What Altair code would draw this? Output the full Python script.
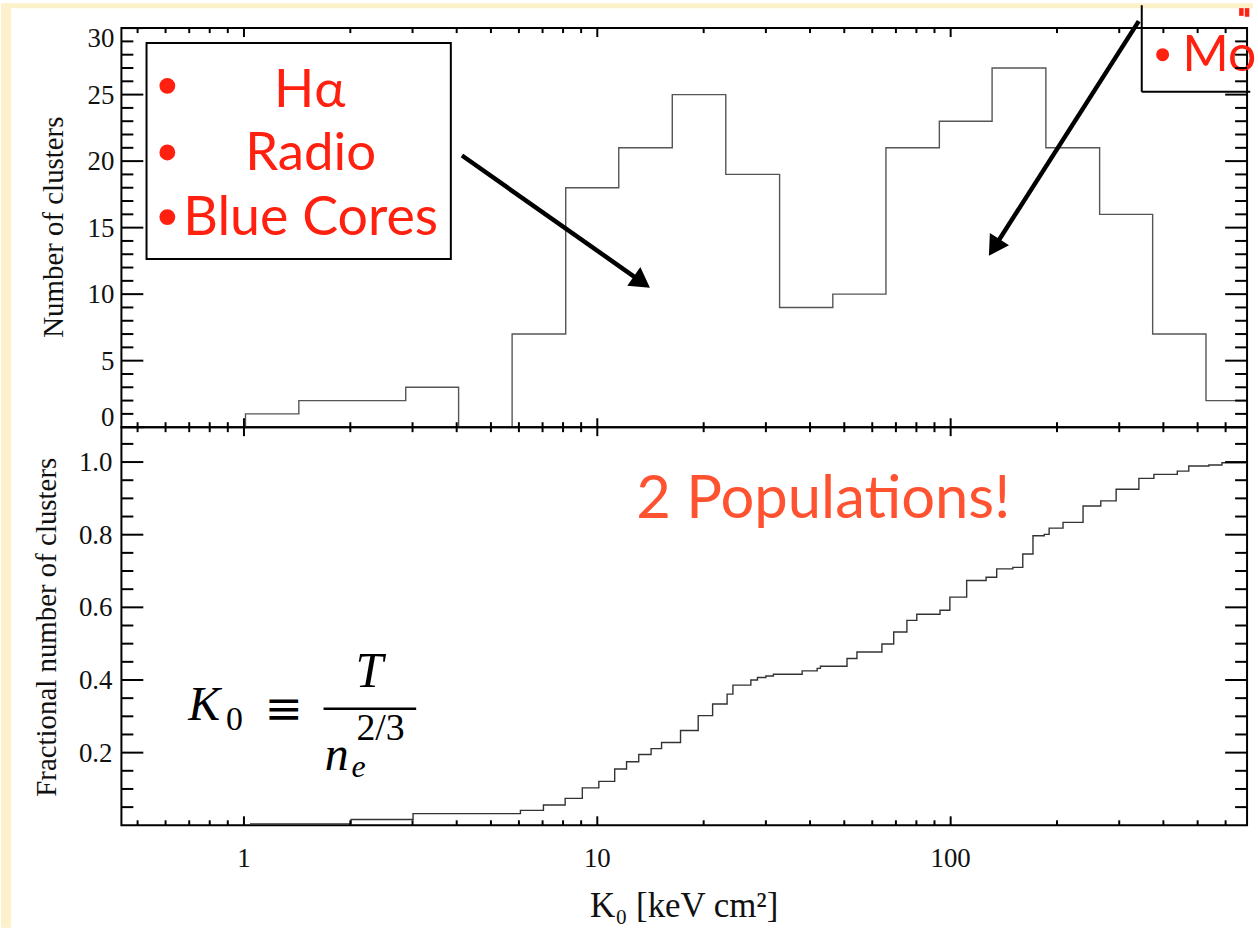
import altair as alt
import pandas as pd

# ---- histogram of central entropy K0 [keV cm^2] ----
bin_edges = [1.01, 1.43, 2.03, 2.87, 4.05, 5.74, 8.14, 11.5, 16.3, 23.1,
             32.8, 46.4, 65.6, 92.9, 131, 186, 264, 373, 528, 746]
cluster_counts = [1, 2, 2, 3, 0, 7, 18, 21, 25, 19, 9, 10, 21, 23, 27, 21, 16, 7, 2]

# ---- cumulative fraction of clusters (step corners) ----
cum_k = [1.04, 2.01, 3.01, 6.06, 7.04, 8.11, 9.07, 10.1, 11.2, 12.1, 13.1, 14.2,
         15.2, 17.2, 19.3, 21.2, 23.3, 24.2, 27.2, 28.4, 30.0, 31.5, 38.0, 41.9,
         42.8, 50.9, 54.3, 63.9, 69.0, 75.2, 80.2, 93.3, 99.5, 111, 126, 135,
         150, 160, 171, 184, 190, 208, 237, 266, 294, 341, 376, 438, 472, 538,
         586, 690]
cum_frac = [0.004, 0.016, 0.032, 0.041, 0.056, 0.074, 0.103, 0.121, 0.155, 0.175,
            0.195, 0.211, 0.228, 0.261, 0.302, 0.334, 0.361, 0.386, 0.400, 0.407,
            0.411, 0.416, 0.425, 0.432, 0.438, 0.459, 0.477, 0.499, 0.532, 0.564,
            0.581, 0.592, 0.628, 0.674, 0.683, 0.706, 0.710, 0.747, 0.797, 0.801,
            0.818, 0.834, 0.879, 0.893, 0.925, 0.955, 0.966, 0.975, 0.989, 0.992,
            0.998, 1.0]

# ---- axes ----
k_labels = [1, 10, 100]
k_label_text = ["1", "10", "100"]
k_minor = [0.5, 0.6, 0.7, 0.8, 0.9, 2, 3, 4, 5, 6, 7, 8, 9,
           20, 30, 40, 50, 60, 70, 80, 90, 200, 300, 400, 500, 600]
count_labels = [0, 5, 10, 15, 20, 25, 30]
count_minor = [v for v in range(1, 30) if v % 5]
frac_labels = [0.2, 0.4, 0.6, 0.8, 1.0]
frac_label_text = ["0.2", "0.4", "0.6", "0.8", "1.0"]
frac_minor = [0.05, 0.1, 0.15, 0.25, 0.3, 0.35, 0.45, 0.5, 0.55, 0.65, 0.7,
              0.75, 0.85, 0.9, 0.95, 1.05]

W, H_TOP, H_BOT = 1131, 401, 400
SERIF = "Liberation Serif"
SANS = "Lato"
RED = "#FF2010"
ORANGE = "#FF5230"
CREAM = "#FDF1CB"
INK = "#111111"
LABEL_SIZE = 27
TITLE_SIZE = 29

xs = alt.Scale(type="log", domain=[0.45, 690], nice=False)
ys_top = alt.Scale(domain=[0, 30], nice=False, zero=False)
ys_bot = alt.Scale(domain=[0, 1.096], nice=False, zero=False)


def one():
    return pd.DataFrame({"d": [0]})


def xq(field):
    return alt.X(field, type="quantitative", scale=xs, axis=None)


def yq(field, scale):
    return alt.Y(field, type="quantitative", scale=scale, axis=None)


def y_ticks(values, scale, length):
    df = pd.DataFrame({"v": values})
    base = alt.Chart(df).mark_rule(color="black", strokeWidth=2)
    left = base.encode(y=yq("v", scale), x=alt.value(0), x2=alt.value(length))
    right = base.encode(y=yq("v", scale), x=alt.value(W - length), x2=alt.value(W))
    return [left, right]


def x_ticks(values, height, length):
    df = pd.DataFrame({"v": values})
    base = alt.Chart(df).mark_rule(color="black", strokeWidth=2)
    low = base.encode(x=xq("v"), y=alt.value(height), y2=alt.value(height - length))
    high = base.encode(x=xq("v"), y=alt.value(0), y2=alt.value(length))
    return [low, high]


def y_labels(values, texts, scale, xpos, dy):
    df = pd.DataFrame({"v": values, "t": texts})
    return alt.Chart(df).mark_text(
        align="right", baseline="alphabetic", dy=dy, font=SERIF,
        fontSize=LABEL_SIZE, color=INK
    ).encode(y=yq("v", scale), x=alt.value(xpos), text="t:N")


def title(text, x, y, size, angle=0):
    df = pd.DataFrame({"t": [text]})
    return alt.Chart(df).mark_text(
        align="center", baseline="alphabetic", angle=angle, font=SERIF,
        fontSize=size, color=INK
    ).encode(x=alt.value(x), y=alt.value(y), text="t:N")


def label(text, k, v, scale, size, color, font, align="left", style="normal",
          baseline="alphabetic"):
    df = pd.DataFrame({"k": [k], "v": [v], "t": [text]})
    return alt.Chart(df).mark_text(
        align=align, baseline=baseline, font=font, fontSize=size,
        color=color, fontStyle=style
    ).encode(x=xq("k"), y=yq("v", scale), text="t:N")


def arrow(k0, v0, k1, v1, angle, scale):
    df = pd.DataFrame({"k": [k0], "v": [v0], "k2": [k1], "v2": [v1]})
    shaft = alt.Chart(df).mark_rule(color="black", strokeWidth=4.5).encode(
        x=xq("k"), y=yq("v", scale), x2="k2:Q", y2="v2:Q")
    head_df = pd.DataFrame({"k": [k1], "v": [v1]})
    head = alt.Chart(head_df).mark_point(
        shape="triangle-up", filled=True, size=520, angle=angle,
        color="black", opacity=1, strokeWidth=0
    ).encode(x=xq("k"), y=yq("v", scale))
    return [shaft, head]


# ---------------- upper panel: histogram ----------------
hist_df = pd.DataFrame({
    "k": [bin_edges[0]] + bin_edges,
    "n": [0] + cluster_counts + [cluster_counts[-1]],
})
hist_df["i"] = range(len(hist_df))

hist = alt.Chart(hist_df).mark_line(
    interpolate="step-after", color="#555555", strokeWidth=1.4, clip=True
).encode(x=xq("k"), y=yq("n", ys_top), order="i:Q")

# page edge
edge_left = alt.Chart(one()).mark_rect(color=CREAM).encode(
    x=alt.value(-121), x2=alt.value(-111), y=alt.value(-25), y2=alt.value(904))
edge_top = alt.Chart(one()).mark_rect(color=CREAM).encode(
    x=alt.value(-121), x2=alt.value(W + 6), y=alt.value(-25), y2=alt.value(-20))

# tracer list box
box_df = pd.DataFrame({"k": [0.530], "v": [28.88], "k2": [3.85], "v2": [12.64]})
box = alt.Chart(box_df).mark_rect(fill="white", stroke="black", strokeWidth=2).encode(
    x=xq("k"), y=yq("v", ys_top), x2="k2:Q", y2="v2:Q")

bullet_df = pd.DataFrame({"k": [0.607, 0.607, 0.607], "v": [25.66, 20.65, 15.79]})
bullets = alt.Chart(bullet_df).mark_circle(color=RED, size=254, opacity=1).encode(
    x=xq("k"), y=yq("v", ys_top))

tracer_text = [
    label("Hα", 1.534, 24.09, ys_top, 53, RED, SANS, align="center"),
    label("Radio", 1.544, 19.30, ys_top, 53, RED, SANS, align="center"),
    label("Blue Cores", 0.673, 14.44, ys_top, 54, RED, SANS),
]

# second box, running off the page
side_v = pd.DataFrame({"k": [347.4], "v": [31.72], "k2": [347.4], "v2": [25.21]})
side_h = pd.DataFrame({"k": [347.4], "v": [25.21], "k2": [704.6], "v2": [25.21]})
side_box = [
    alt.Chart(d).mark_rule(color="black", strokeWidth=2).encode(
        x=xq("k"), y=yq("v", ys_top), x2="k2:Q", y2="v2:Q")
    for d in (side_v, side_h)
]
side_bullet = alt.Chart(pd.DataFrame({"k": [398.0], "v": [28.0]})).mark_circle(
    color=RED, size=170, opacity=1).encode(x=xq("k"), y=yq("v", ys_top))
side_text = label("Mo", 453.3, 26.76, ys_top, 50, RED, SANS)
glyph_df = pd.DataFrame({"k": [665.0, 690.0], "v": [31.50, 31.50], "v2": [30.92, 30.85]})
side_glyph = alt.Chart(glyph_df).mark_rule(color=RED, strokeWidth=4.5).encode(
    x=xq("k"), y=yq("v", ys_top), y2="v2:Q")

arrows_top = (arrow(4.14, 20.42, 13.37, 10.91, 125.1, ys_top)
              + arrow(340.7, 30.52, 132.8, 13.51, 212.5, ys_top))

top = alt.layer(
    edge_left, edge_top, box, hist, *arrows_top, *side_box, side_glyph,
    bullets, *tracer_text, side_bullet, side_text,
    *y_ticks(count_labels, ys_top, 22), *y_ticks(count_minor, ys_top, 12),
    *x_ticks(k_labels, H_TOP, 9), *x_ticks(k_minor, H_TOP, 5),
    y_labels(count_labels[1:-1], [str(v) for v in count_labels[1:-1]], ys_top, -7, 9),
    y_labels([0], ["0"], ys_top, -7, -1),
    y_labels([30], ["30"], ys_top, -7, 19),
    title("Number of clusters", -59, 200, TITLE_SIZE, angle=270),
).properties(width=W, height=H_TOP)

# ---------------- lower panel: cumulative fraction ----------------
cum_df = pd.DataFrame({"k": cum_k, "f": cum_frac})
cum_df["i"] = range(len(cum_df))

cum = alt.Chart(cum_df).mark_line(
    interpolate="step-after", color="#333333", strokeWidth=1.4, clip=True
).encode(x=xq("k"), y=yq("f", ys_bot), order="i:Q")

populations = label("2 Populations!", 43.6, 0.847, ys_bot, 60, ORANGE, SANS,
                    align="center")

# K0 = T / n_e^(2/3)
bar_df = pd.DataFrame({"k": [1.680], "v": [0.3205], "k2": [3.072]})
frac_bar = alt.Chart(bar_df).mark_rule(color="black", strokeWidth=2.5).encode(
    x=xq("k"), y=yq("v", ys_bot), x2="k2:Q")
formula = [
    label("K", 0.6955, 0.2904, ys_bot, 48, "black", SERIF, style="italic"),
    label("0", 0.890, 0.263, ys_bot, 34, "black", SERIF),
    label("≡", 1.296, 0.3178, ys_bot, 46, "black", "DejaVu Serif",
          align="center", baseline="middle"),
    label("T", 2.264, 0.3808, ys_bot, 50, "black", SERIF, align="center", style="italic"),
    label("n", 1.692, 0.1534, ys_bot, 48, "black", SERIF, style="italic"),
    label("e", 2.015, 0.1342, ys_bot, 32, "black", SERIF, style="italic"),
    label("2/3", 2.081, 0.2356, ys_bot, 38, "black", SERIF),
    frac_bar,
]

x_label_df = pd.DataFrame({"k": k_labels, "t": k_label_text})
x_labels = alt.Chart(x_label_df).mark_text(
    align="center", baseline="alphabetic", font=SERIF, fontSize=LABEL_SIZE, color=INK
).encode(x=xq("k"), y=alt.value(442), text="t:N")

bottom = alt.layer(
    cum, populations, *formula,
    *y_ticks(frac_labels, ys_bot, 22), *y_ticks(frac_minor, ys_bot, 12),
    *x_ticks(k_labels, H_BOT, 9), *x_ticks(k_minor, H_BOT, 5),
    y_labels(frac_labels, frac_label_text, ys_bot, -9, 9),
    x_labels,
    title("Fractional number of clusters", -66, 201, TITLE_SIZE, angle=270),
    title("K₀ [keV cm²]", W / 2, 492, 35),
).properties(width=W, height=H_BOT)

chart = alt.vconcat(
    top, bottom, spacing=0, bounds="flush", padding=0
).resolve_scale(
    x="independent", y="independent"
).configure(
    background="white"
).configure_view(
    stroke="black", strokeWidth=2
)

chart.save("out.html", embed_options={"renderer": "svg", "actions": False})
